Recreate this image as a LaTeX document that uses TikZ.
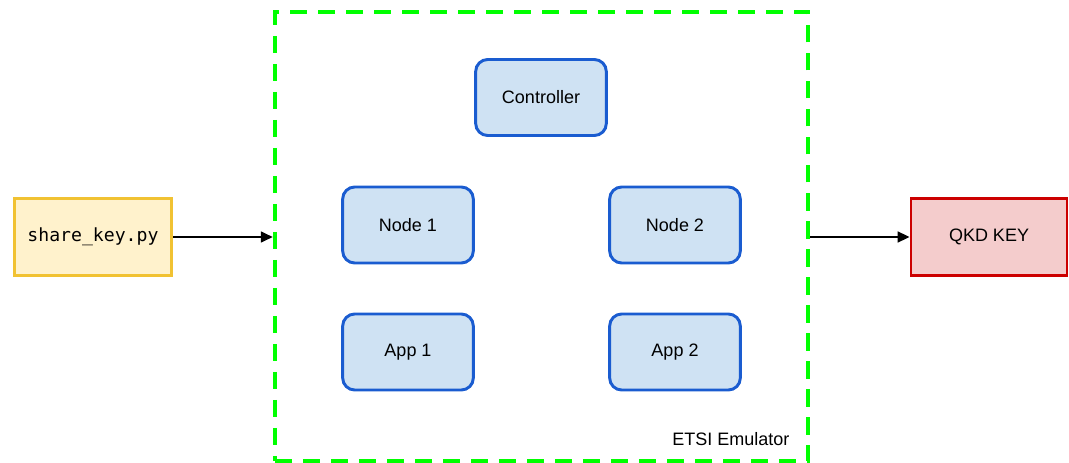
\documentclass[tikz,border=0pt]{standalone}
\usepackage{fontspec}
\setmainfont{Liberation Sans}
\newfontfamily\codefont{DejaVu Sans Mono}
\usetikzlibrary{arrows.meta}

\definecolor{emugreen}{HTML}{00FF00}
\definecolor{boxblue}{HTML}{1A5CD0}
\definecolor{fillblue}{HTML}{CFE2F3}
\definecolor{boxyellow}{HTML}{F1C232}
\definecolor{fillyellow}{HTML}{FFF2CC}
\definecolor{boxred}{HTML}{CC0000}
\definecolor{fillred}{HTML}{F4CCCC}

\tikzset{
    part/.style={draw=boxblue, fill=fillblue, line width=2.2pt, rounded corners=9pt,
        minimum width=98pt, minimum height=57pt, font=\fontsize{13.5}{15}\selectfont},
    script/.style={draw=boxyellow, fill=fillyellow, line width=2pt,
        minimum width=118pt, minimum height=58pt, font=\codefont\fontsize{13.6}{15}\selectfont},
    keybox/.style={draw=boxred, fill=fillred, line width=2pt,
        minimum width=117pt, minimum height=58pt, font=\fontsize{13.5}{15}\selectfont},
    emubox/.style={draw=emugreen, line width=3pt, dash pattern=on 13pt off 8pt,
        minimum width=400pt, minimum height=337pt}
}

\begin{document}
\begin{tikzpicture}[x=0.75pt, y=-0.75pt, >={Triangle[length=9pt, width=8pt]}]
        \useasboundingbox (0,0) rectangle (1069,463);

        % Emulator boundary
        \node[emubox] (emu) at (541.5,236.5) {};
        \node[anchor=base east, font=\fontsize{13.5}{15}\selectfont] (emulabel) at (794,445) {ETSI Emulator};

        % Parts inside the emulator
        \node[part] (ctrl) at (541,97.5) {Controller};
        \node[part] (node1) at (408,225) {Node 1};
        \node[part] (node2) at (675,225) {Node 2};
        \node[part] (app1) at (408,352) {App 1};
        \node[part] (app2) at (675,352) {App 2};

        % Input script and output key
        \node[script] (share) at (93,237) {share\_key.py};
        \node[keybox] (qkd) at (989,237) {QKD KEY};

        \draw[->, line width=1.8pt] (share.east) -- (share.east -| emu.west);
        \draw[->, line width=1.8pt] (qkd.west -| emu.east) -- (qkd.west);
    \end{tikzpicture}
\end{document}
